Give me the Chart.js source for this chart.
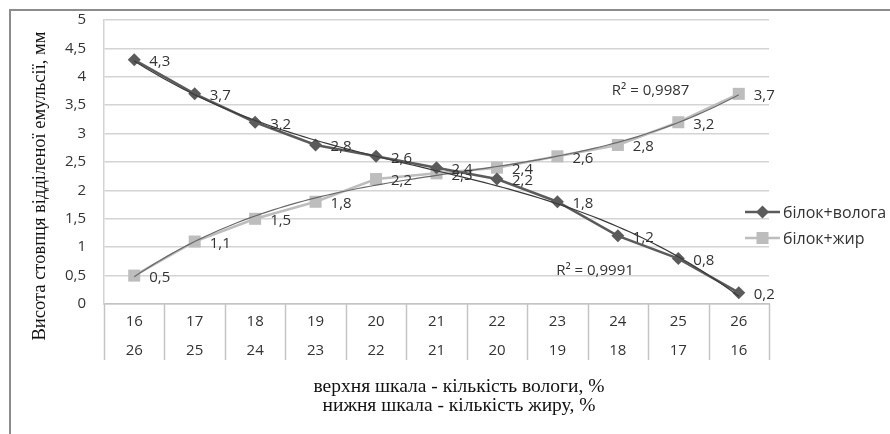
<!DOCTYPE html>
<html><head><meta charset="utf-8">
<script src="https://cdn.jsdelivr.net/npm/chart.js@4.4.1/dist/chart.umd.min.js"></script>
<style>
html,body{margin:0;padding:0;background:#fff;}
#wrap{position:relative;width:890px;height:434px;overflow:hidden;background:#fff;}
#frame{position:absolute;left:9px;top:9px;width:1000px;height:600px;border-left:2px solid #8c8c8c;border-top:2px solid #8c8c8c;}
#c{position:absolute;left:0;top:0;}
</style></head><body>
<div id="wrap"><div id="frame"></div><canvas id="c" width="890" height="434"></canvas></div>
<script>
// ---- data ----
const moistureTop = ['16','17','18','19','20','21','22','23','24','25','26'];
const fatBottom   = ['26','25','24','23','22','21','20','19','18','17','16'];
const seriesMoisture = [4.3,3.7,3.2,2.8,2.6,2.4,2.2,1.8,1.2,0.8,0.2];
const seriesFat      = [0.5,1.1,1.5,1.8,2.2,2.3,2.4,2.6,2.8,3.2,3.7];
const yTicks = [0,0.5,1,1.5,2,2.5,3,3.5,4,4.5,5];
const seriesNames = ['білок+волога','білок+жир'];
const r2Moisture = 'R² = 0,9991';
const r2Fat = 'R² = 0,9987';
const yTitle = 'Висота стовпця відділеної емульсії, мм';
const xTitle = ['верхня шкала - кількість вологи, %','нижня шкала - кількість жиру, %'];

const DARK = '#5b5b5b', LIGHT = '#bdbdbd';
const SANS = '"Open Sans", "DejaVu Sans", sans-serif';
const SERIF = '"Liberation Serif", "DejaVu Serif", serif';

// cubic least-squares trendline (as the spreadsheet's polynomial trendline)
function polyFit(ys, order){
  const n = order+1, A = [], b = [];
  for(let i=0;i<n;i++){A.push(new Array(n).fill(0));b.push(0);}
  ys.forEach((y,k)=>{const x=k+1;
    for(let i=0;i<n;i++){b[i]+=y*Math.pow(x,i);for(let j=0;j<n;j++)A[i][j]+=Math.pow(x,i+j);}});
  for(let i=0;i<n;i++){let p=i;for(let r=i+1;r<n;r++)if(Math.abs(A[r][i])>Math.abs(A[p][i]))p=r;
    [A[i],A[p]]=[A[p],A[i]];[b[i],b[p]]=[b[p],b[i]];
    for(let r=i+1;r<n;r++){const f=A[r][i]/A[i][i];for(let c=i;c<n;c++)A[r][c]-=f*A[i][c];b[r]-=f*b[i];}}
  const c=new Array(n).fill(0);
  for(let i=n-1;i>=0;i--){let s=b[i];for(let j=i+1;j<n;j++)s-=A[i][j]*c[j];c[i]=s/A[i][i];}
  return c;
}
function trend(ys){
  const c = polyFit(ys,3), pts=[];
  for(let t=0;t<=100;t++){const xi=t/10, x=xi+1; let y=0; c.forEach((ci,i)=>y+=ci*Math.pow(x,i)); pts.push({x:xi,y});}
  return pts;
}
const toPts = ys => ys.map((y,i)=>({x:i,y}));
const fmt = v => String(v).replace('.',',');

const decor = {
  id:'decor',
  afterDraw(chart){
    const {ctx, chartArea:a, scales:{x,y}} = chart;
    ctx.save();
    // category separators under the axis
    ctx.strokeStyle = '#c4c4c4'; ctx.lineWidth = 1.5;
    for(let i=0;i<=moistureTop.length;i++){
      const px = Math.round(x.getPixelForValue(i-0.5))+0.5;
      ctx.beginPath(); ctx.moveTo(px,a.bottom); ctx.lineTo(px,a.bottom+56); ctx.stroke();
    }
    // data labels
    ctx.fillStyle = '#333'; ctx.font = '15px '+SANS; ctx.textBaseline='middle'; ctx.textAlign='left';
    [0,1].forEach(di=>{
      const meta = chart.getDatasetMeta(di);
      const vals = di===0?seriesMoisture:seriesFat;
      meta.data.forEach((el,i)=>{ ctx.fillText(fmt(vals[i]), el.x+15, el.y+2); });
    });
    // R² labels
    ctx.fillText(r2Fat, x.getPixelForValue(7.9), y.getPixelForValue(3.75));
    ctx.fillText(r2Moisture, x.getPixelForValue(6.98), y.getPixelForValue(0.58));
    // legend
    ctx.font = '16px '+SANS;
    const lx = a.right-24, ly = [a.top+192, a.top+218];
    [[DARK,'rectRot',6.5],[LIGHT,'rect',8.5]].forEach((s,i)=>{
      ctx.strokeStyle=s[0]; ctx.lineWidth=2.5;
      ctx.beginPath(); ctx.moveTo(lx,ly[i]); ctx.lineTo(lx+35,ly[i]); ctx.stroke();
      ctx.fillStyle=s[0];
      Chart.helpers.drawPoint(ctx,{pointStyle:s[1],radius:s[2],borderWidth:0},lx+17.5,ly[i]);
      ctx.fillStyle='#333';
      ctx.fillText(seriesNames[i], lx+38, ly[i]+1);
    });
    // axis titles
    ctx.fillStyle='#111'; ctx.font='19.5px '+SERIF; ctx.textAlign='center';
    ctx.fillText(xTitle[0], 459, 387);
    ctx.fillText(xTitle[1], 459, 406);
    ctx.font='18.5px '+SERIF;
    ctx.translate(40,186); ctx.rotate(-Math.PI/2);
    ctx.fillText(yTitle,0,0);
    ctx.restore();
  }
};

new Chart(document.getElementById('c'),{
  type:'line',
  data:{datasets:[
    {label:seriesNames[0], data:toPts(seriesMoisture), borderColor:DARK, backgroundColor:DARK, borderWidth:2.5,
     pointStyle:'rectRot', pointRadius:6.5, pointBorderWidth:0, order:2},
    {label:seriesNames[1], data:toPts(seriesFat), borderColor:LIGHT, backgroundColor:LIGHT, borderWidth:2.5,
     pointStyle:'rect', pointRadius:8.5, pointBorderWidth:0, order:2},
    {label:'t1', data:trend(seriesMoisture), borderColor:'#3a3a3a', borderWidth:1.2, pointRadius:0, order:1},
    {label:'t2', data:trend(seriesFat), borderColor:'#6a6a6a', borderWidth:1.2, pointRadius:0, order:1}
  ]},
  options:{
    responsive:false, animation:false, devicePixelRatio:1,
    layout:{padding:{left:0,right:121,top:20,bottom:0}},
    plugins:{legend:{display:false}, tooltip:{enabled:false}},
    elements:{line:{tension:0}},
    scales:{
      x:{type:'linear', min:-0.5, max:10.5,
        afterBuildTicks:s=>{s.ticks=moistureTop.map((_,i)=>({value:i}));},
        afterFit:s=>{s.height=130;},
        grid:{display:false, drawTicks:false},
        border:{display:true, color:'#c4c4c4', width:1.5},
        ticks:{autoSkip:false, maxRotation:0, padding:3, color:'#333',
          font:{family:SANS, size:15, lineHeight:1.93},
          callback:(v,i)=>[moistureTop[i], fatBottom[i]]}
      },
      y:{min:0,max:5,
        afterBuildTicks:s=>{s.ticks=yTicks.map(v=>({value:v}));},
        afterFit:s=>{s.width=104; s.paddingTop=4; s.paddingBottom=4;},
        grid:{color:'#d4d4d4', lineWidth:1.5, drawTicks:false},
        border:{display:true, color:'#d4d4d4', width:1.5},
        ticks:{padding:18, color:'#333', font:{family:SANS, size:15}, callback:v=>fmt(v)}
      }
    }
  },
  plugins:[decor]
});
</script>
</body></html>
